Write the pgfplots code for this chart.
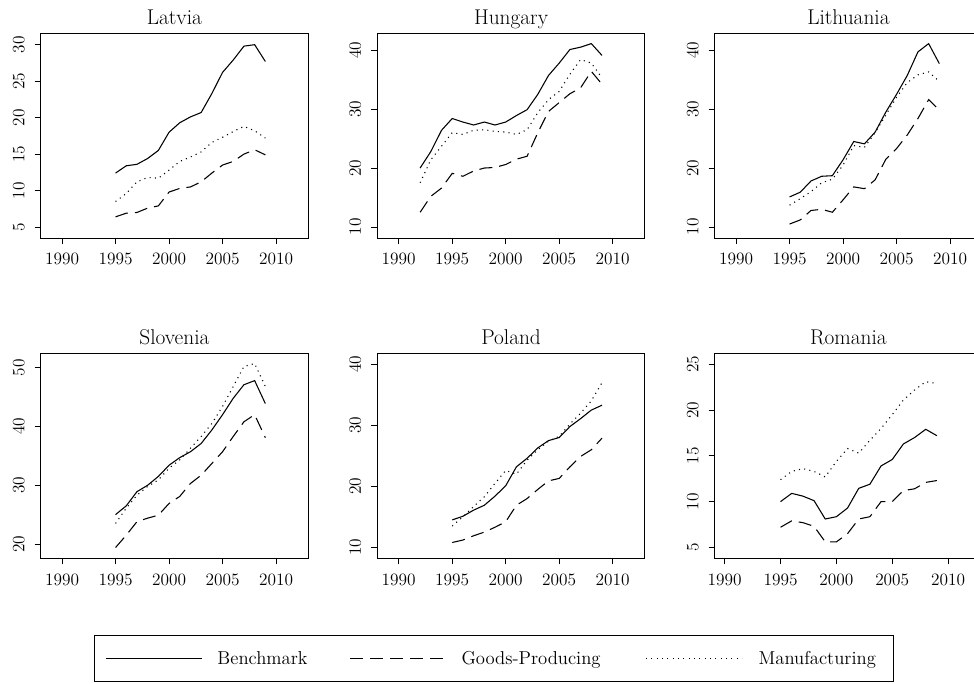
\documentclass[border=0pt]{standalone}
\usepackage{pgfplots}
\pgfplotsset{compat=1.18}
\pgfplotsset{
  panel/.style={
    scale only axis, width=200.6pt, height=153.75pt,
    xmin=1988, xmax=2013,
    xtick={1990,1995,2000,2005,2010},
    tick align=outside, major tick length=4.5pt, tick pos=left,
    axis line style={line width=0.6pt},
    every tick/.style={line width=0.6pt, black},
    /pgf/number format/assume math mode=true,
    ticklabel style={font=\fontsize{13}{15}\selectfont, inner sep=0pt},
    xticklabel style={/pgf/number format/1000 sep={}, anchor=north},
    yticklabel style={rotate=90, anchor=south},
    xticklabel shift=6.75pt,
    yticklabel shift=7.3pt,
    every axis title/.style={font=\fontsize{16}{19}\selectfont, at={(0.5,1)}, anchor=base, yshift=6.75pt},
    every axis plot/.append style={line width=0.8pt, black},
  },
  bench/.style={black, solid},
  goods/.style={black, dash pattern=on 9.75pt off 5.25pt},
  manuf/.style={black, dash pattern=on 0.8pt off 3.2pt},
}
\begin{document}
\begin{tikzpicture}
\path[use as bounding box] (0,0) rectangle (730.5pt,-512.25pt);
\clip (0,0) rectangle (730.5pt,-512.25pt);
% Latvia
\begin{axis}[panel, at={(30.5pt,-24.75pt)}, anchor=north west, title={Latvia},
  ymin=3.5, ymax=31.6, ytick={5,10,15,20,25,30}]
\addplot[bench] coordinates {(1995,12.4)(1996,13.4)(1997,13.6)(1998,14.4)(1999,15.5)(2000,18.0)(2001,19.3)(2002,20.1)(2003,20.7)(2004,23.3)(2005,26.2)(2006,27.9)(2007,29.8)(2008,30.0)(2009,27.7)};
\addplot[goods] coordinates {(1995,6.4)(1996,6.9)(1997,7.0)(1998,7.6)(1999,7.9)(2000,9.8)(2001,10.3)(2002,10.5)(2003,11.2)(2004,12.4)(2005,13.5)(2006,14.0)(2007,15.0)(2008,15.6)(2009,14.9)};
\addplot[manuf] coordinates {(1995,8.5)(1996,9.6)(1997,11.2)(1998,11.8)(1999,11.7)(2000,12.8)(2001,14.0)(2002,14.6)(2003,15.3)(2004,16.6)(2005,17.3)(2006,18.1)(2007,18.8)(2008,18.2)(2009,17.2)};
\end{axis}
% Hungary
\begin{axis}[panel, at={(283.0pt,-24.75pt)}, anchor=north west, title={Hungary},
  ymin=8.13, ymax=42.9, ytick={10,20,30,40}]
\addplot[bench] coordinates {(1992,20.0)(1993,22.8)(1994,26.4)(1995,28.4)(1996,27.8)(1997,27.3)(1998,27.8)(1999,27.3)(2000,27.8)(2001,28.9)(2002,29.9)(2003,32.5)(2004,35.7)(2005,37.8)(2006,40.1)(2007,40.5)(2008,41.1)(2009,39.1)};
\addplot[goods] coordinates {(1992,12.5)(1993,15.2)(1994,16.6)(1995,19.1)(1996,18.6)(1997,19.5)(1998,20.0)(1999,20.1)(2000,20.6)(2001,21.5)(2002,22.0)(2003,26.0)(2004,29.6)(2005,31.1)(2006,32.6)(2007,33.6)(2008,36.4)(2009,34.2)};
\addplot[manuf] coordinates {(1992,17.5)(1993,21.4)(1994,23.7)(1995,26.0)(1996,25.7)(1997,26.4)(1998,26.5)(1999,26.2)(2000,26.1)(2001,25.7)(2002,26.5)(2003,29.4)(2004,31.6)(2005,33.0)(2006,35.9)(2007,38.4)(2008,37.8)(2009,35.3)};
\end{axis}
% Lithuania
\begin{axis}[panel, at={(536.0pt,-24.75pt)}, anchor=north west, title={Lithuania},
  ymin=8.13, ymax=42.9, ytick={10,20,30,40}]
\addplot[bench] coordinates {(1995,15.1)(1996,15.9)(1997,17.8)(1998,18.6)(1999,18.7)(2000,21.4)(2001,24.5)(2002,24.1)(2003,26.1)(2004,29.5)(2005,32.5)(2006,35.7)(2007,39.7)(2008,41.1)(2009,37.7)};
\addplot[goods] coordinates {(1995,10.5)(1996,11.2)(1997,12.8)(1998,13.0)(1999,12.5)(2000,14.6)(2001,16.8)(2002,16.5)(2003,18.0)(2004,21.5)(2005,23.3)(2006,25.6)(2007,28.4)(2008,31.6)(2009,29.8)};
\addplot[manuf] coordinates {(1995,13.7)(1996,14.8)(1997,16.0)(1998,17.5)(1999,18.1)(2000,20.5)(2001,23.8)(2002,23.5)(2003,26.0)(2004,29.0)(2005,32.0)(2006,34.5)(2007,35.8)(2008,36.3)(2009,34.7)};
\end{axis}
% Slovenia
\begin{axis}[panel, at={(30.5pt,-265.0pt)}, anchor=north west, title={Slovenia},
  ymin=17.56, ymax=52.44, ytick={20,30,40,50}]
\addplot[bench] coordinates {(1995,25.0)(1996,26.5)(1997,28.9)(1998,30.0)(1999,31.5)(2000,33.4)(2001,34.7)(2002,35.7)(2003,37.1)(2004,39.4)(2005,42.0)(2006,44.8)(2007,47.1)(2008,47.8)(2009,43.9)};
\addplot[goods] coordinates {(1995,19.4)(1996,21.5)(1997,23.8)(1998,24.4)(1999,24.9)(2000,26.9)(2001,28.1)(2002,30.3)(2003,31.7)(2004,33.7)(2005,35.7)(2006,38.3)(2007,40.8)(2008,42.0)(2009,38.1)};
\addplot[manuf] coordinates {(1995,23.5)(1996,26.1)(1997,28.3)(1998,29.8)(1999,30.9)(2000,32.9)(2001,34.3)(2002,36.3)(2003,38.3)(2004,40.5)(2005,43.4)(2006,46.8)(2007,50.2)(2008,50.7)(2009,46.8)};
\end{axis}
% Poland
\begin{axis}[panel, at={(283.0pt,-265.0pt)}, anchor=north west, title={Poland},
  ymin=8.2, ymax=41.8, ytick={10,20,30,40},
  legend columns=3,
  legend image code/.code={\draw[#1] (0pt,0pt) -- (72pt,0pt);},
  legend style={at={(0.4363,-0.4888)}, anchor=center, draw=black, line width=0.6pt,
    inner xsep=8.25pt, inner ysep=11.5pt, column sep=0pt, row sep=0pt,
    font=\fontsize{14}{17}\selectfont, nodes={inner sep=0pt}}]
\addplot[bench] coordinates {(1995,14.5)(1996,15.1)(1997,16.1)(1998,16.9)(1999,18.4)(2000,20.1)(2001,23.2)(2002,24.6)(2003,26.3)(2004,27.5)(2005,28.0)(2006,29.8)(2007,31.1)(2008,32.5)(2009,33.3)};
\addlegendentry{\hspace*{11.25pt}\makebox[99pt][l]{Benchmark}}
\addplot[goods] coordinates {(1995,10.8)(1996,11.2)(1997,11.9)(1998,12.5)(1999,13.3)(2000,14.2)(2001,16.9)(2002,18.0)(2003,19.5)(2004,20.9)(2005,21.3)(2006,23.2)(2007,24.9)(2008,26.0)(2009,27.9)};
\addlegendentry{\hspace*{11.25pt}\makebox[138pt][l]{Goods-Producing}}
\addplot[manuf] coordinates {(1995,13.5)(1996,15.0)(1997,16.7)(1998,18.3)(1999,20.5)(2000,22.6)(2001,22.0)(2002,24.3)(2003,26.0)(2004,27.4)(2005,28.2)(2006,30.2)(2007,32.0)(2008,34.0)(2009,37.0)};
\addlegendentry{\hspace*{12pt}\makebox[93pt][l]{Manufacturing}}
\end{axis}
% Romania
\begin{axis}[panel, at={(536.0pt,-265.0pt)}, anchor=north west, title={Romania},
  xmin=1989.1, xmax=2013.05,
  ymin=3.8, ymax=26.2, ytick={5,10,15,20,25}]
\addplot[bench] coordinates {(1995,10.0)(1996,10.9)(1997,10.6)(1998,10.1)(1999,8.1)(2000,8.35)(2001,9.3)(2002,11.45)(2003,11.9)(2004,13.9)(2005,14.6)(2006,16.3)(2007,17.0)(2008,17.9)(2009,17.2)};
\addplot[goods] coordinates {(1995,7.2)(1996,7.9)(1997,7.7)(1998,7.3)(1999,5.6)(2000,5.6)(2001,6.5)(2002,8.1)(2003,8.35)(2004,10.0)(2005,10.0)(2006,11.2)(2007,11.4)(2008,12.1)(2009,12.3)};
\addplot[manuf] coordinates {(1995,12.4)(1996,13.3)(1997,13.6)(1998,13.3)(1999,12.7)(2000,14.4)(2001,15.8)(2002,15.3)(2003,16.7)(2004,18.0)(2005,19.5)(2006,21.1)(2007,22.2)(2008,23.1)(2009,22.9)};
\end{axis}
\end{tikzpicture}
\end{document}
